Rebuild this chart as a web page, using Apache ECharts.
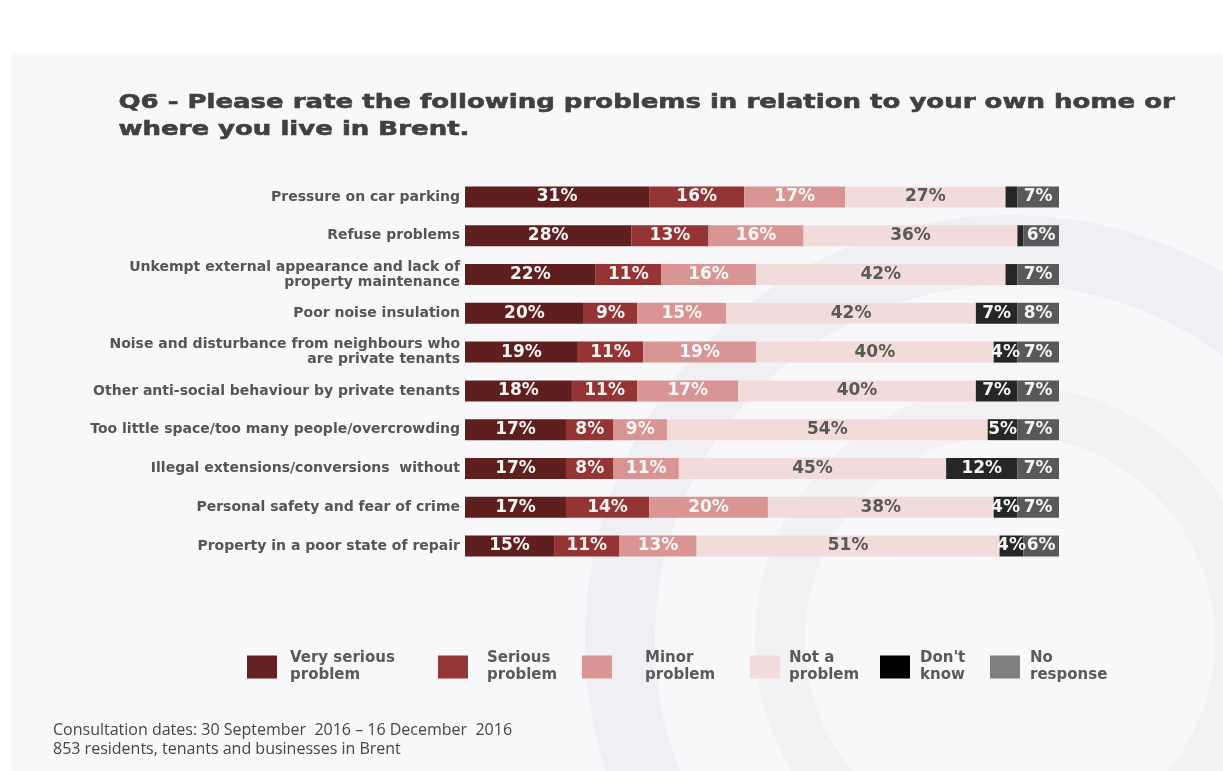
<!DOCTYPE html>
<html>
<head>
<meta charset="utf-8">
<script src="https://cdn.jsdelivr.net/npm/echarts@6/dist/echarts.min.js"></script>
<style>
  html, body { margin: 0; padding: 0; background: #ffffff; }
  #chart { width: 1223px; height: 771px; }
</style>
</head>
<body>
<div id="chart"></div>
<script>
// Survey question and response categories
const problems = [
  'Pressure on car parking',
  'Refuse problems',
  'Unkempt external appearance and lack of\nproperty maintenance',
  'Poor noise insulation',
  'Noise and disturbance from neighbours who\nare private tenants',
  'Other anti-social behaviour by private tenants',
  'Too little space/too many people/overcrowding',
  'Illegal extensions/conversions  without',
  'Personal safety and fear of crime',
  'Property in a poor state of repair'
];

// Share of responses (%) per problem
const verySerious = [31, 28, 22, 20, 19, 18, 17, 17, 17, 15];
const serious     = [16, 13, 11,  9, 11, 11,  8,  8, 14, 11];
const minor       = [17, 16, 16, 15, 19, 17,  9, 11, 20, 13];
const notProblem  = [27, 36, 42, 42, 40, 40, 54, 45, 38, 51];
const dontKnow    = [ 2,  1,  2,  7,  4,  7,  5, 12,  4,  4];
const noResponse  = [ 7,  6,  7,  8,  7,  7,  7,  7,  7,  6];

const responseNames = ['Very serious problem', 'Serious problem', 'Minor problem',
                       'Not a problem', "Don't know", 'No response'];
const legendLabels  = ['Very serious\nproblem', 'Serious\nproblem', 'Minor\nproblem',
                       'Not a\nproblem', "Don't\nknow", 'No\nresponse'];

const titleText  = 'Q6 - Please rate the following problems in relation to your own home or\nwhere you live in Brent.';
const footerText = 'Consultation dates: 30 September  2016 \u2013 16 December  2016\n853 residents, tenants and businesses in Brent';

const barColors    = ['#5f1f1f', '#943434', '#d99594', '#f2dcdb', '#262626', '#595959'];
const swatchColors = ['#652222', '#963636', '#d99594', '#f2dcdb', '#000000', '#7f7f7f'];
const labelColors  = ['#f4f4f4', '#f4f4f4', '#f8f8f8', '#595959', '#f4f4f4', '#f4f4f4'];

const seriesValues = [verySerious, serious, minor, notProblem, dontKnow, noResponse];

const chart = echarts.init(document.getElementById('chart'), null, { renderer: 'canvas' });

const series = responseNames.map((name, i) => ({
  name: name,
  type: 'bar',
  stack: 'total',
  barWidth: 21,
  data: seriesValues[i],
  itemStyle: { color: barColors[i] },
  label: {
    show: true,
    position: 'inside',
    color: labelColors[i],
    fontFamily: 'DejaVu Sans',
    fontWeight: 'bold',
    fontSize: 17,
    formatter: p => (p.value >= 4 ? p.value + '%' : '')
  },
  emphasis: { disabled: true }
}));

// Legend placement: swatch left edge and gap from swatch to text
const legendLeft = [247, 438, 582, 750, 880, 990];
const legendGap  = [13, 19, 33, 9, 10, 10];

const legends = responseNames.map((name, i) => ({
  data: [{ name: name, itemStyle: { color: swatchColors[i] } }],
  left: legendLeft[i],
  top: 650,
  padding: 0,
  itemWidth: 30,
  itemHeight: 23,
  icon: 'rect',
  selectedMode: false,
  formatter: () => legendLabels[i],
  textStyle: {
    fontFamily: 'DejaVu Sans',
    fontWeight: 'bold',
    fontSize: 15,
    color: '#5a5a5a',
    lineHeight: 17,
    padding: [0, 0, 0, legendGap[i] - 5]
  }
}));

chart.setOption({
  animation: false,
  backgroundColor: '#ffffff',
  graphic: [
    { type: 'rect', z: -10, shape: { x: 10, y: 53, width: 1213, height: 718 },
      style: { fill: '#f8f8fa' } },
    { type: 'circle', z: -9, shape: { cx: 1010, cy: 640, r: 390 },
      style: { fill: 'none', stroke: '#f0f0f4', lineWidth: 70 } },
    { type: 'circle', z: -9, shape: { cx: 1010, cy: 640, r: 230 },
      style: { fill: 'none', stroke: '#f2f2f5', lineWidth: 50 } },
    // heading, widened to the slide's stretched lettering
    { type: 'text', left: 118, top: 89, scaleX: 1.3, originX: 0,
      style: {
        text: titleText,
        font: 'bold 20px "DejaVu Sans"',
        fill: '#404040',
        stroke: '#404040',
        lineWidth: 0.6,
        lineHeight: 27
      } },
    { type: 'text', left: 53, top: 721,
      style: {
        text: footerText,
        font: '16px "Open Sans"',
        fill: '#454545',
        lineHeight: 19
      } }
  ],
  legend: legends,
  grid: { left: 465, right: 164, top: 177.6, bottom: 205.6, containLabel: false },
  xAxis: {
    type: 'value',
    min: 0,
    max: 100,
    show: false
  },
  yAxis: {
    type: 'category',
    inverse: true,
    data: problems,
    axisLine: { show: false },
    axisTick: { show: false },
    axisLabel: {
      margin: 5,
      fontFamily: 'DejaVu Sans',
      fontWeight: 'bold',
      fontSize: 14,
      color: '#555555',
      lineHeight: 15,
      align: 'right'
    }
  },
  series: series
});
</script>
</body>
</html>
